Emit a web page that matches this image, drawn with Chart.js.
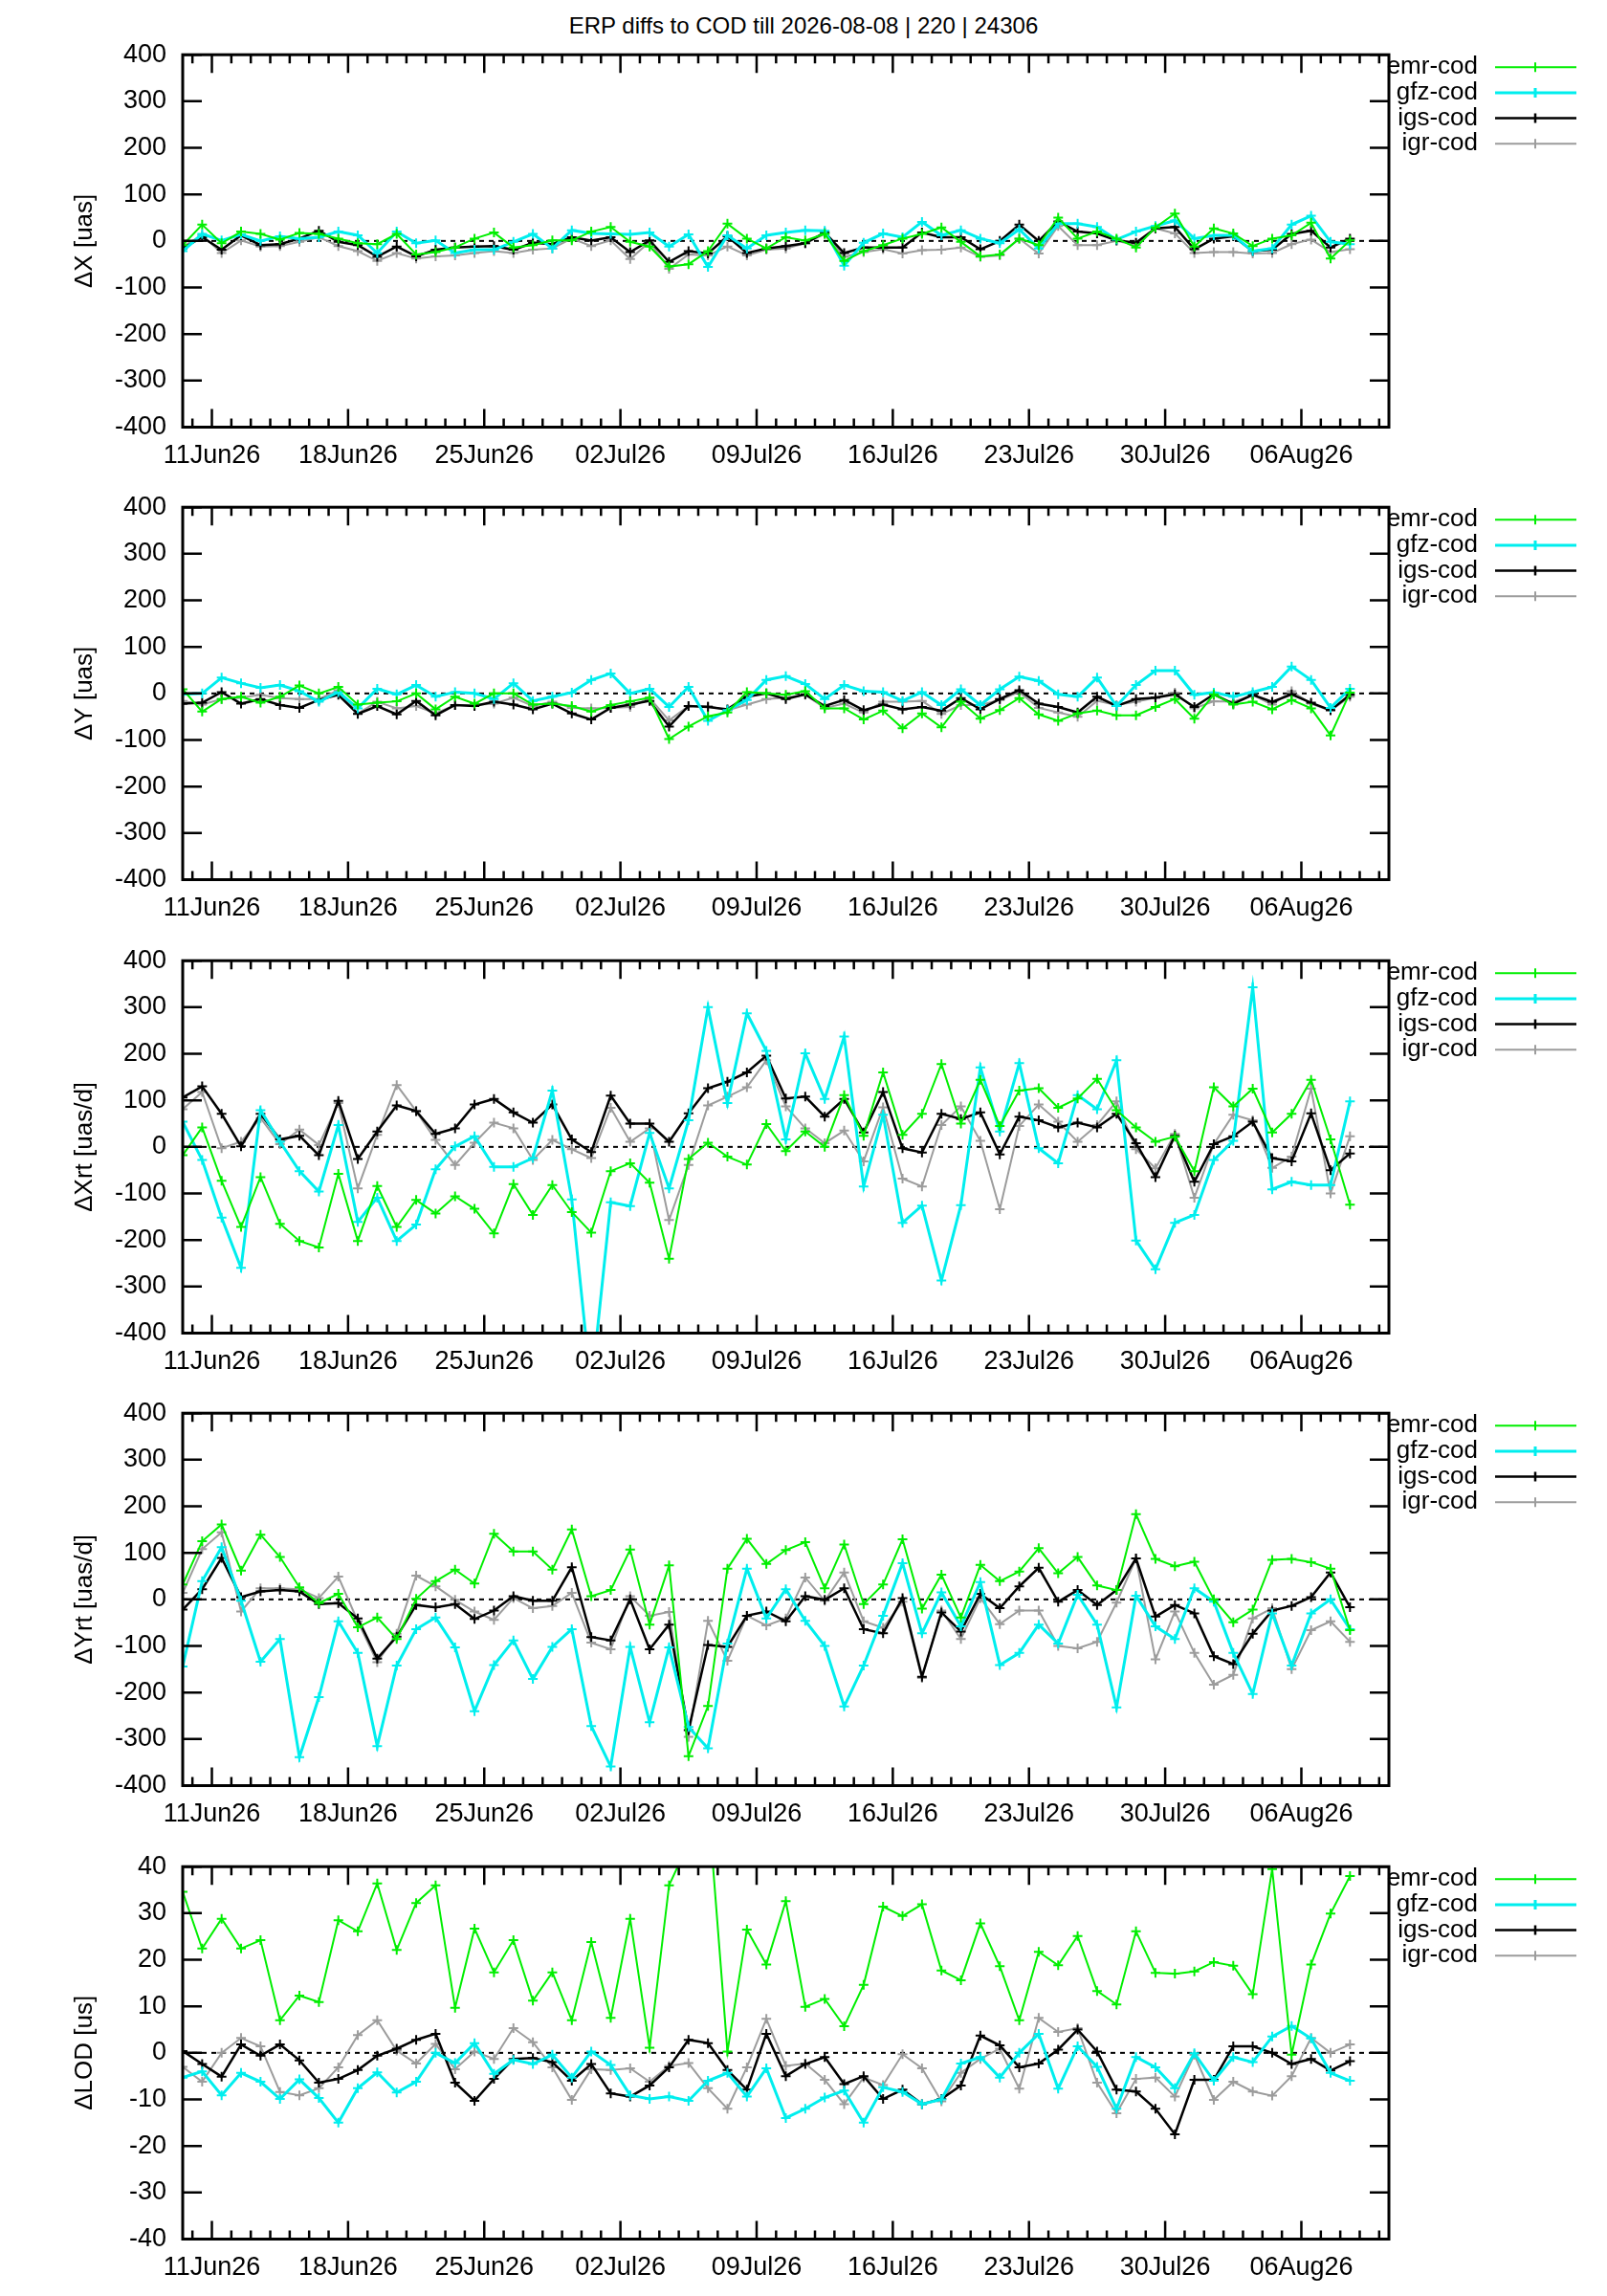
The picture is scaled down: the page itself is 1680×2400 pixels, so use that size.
<!DOCTYPE html>
<html lang="en">
<head>
<meta charset="UTF-8">
<title>ERP diffs to COD</title>
<style>
  html, body { margin: 0; padding: 0; background: #fff; }
  body { width: 1680px; height: 2400px; position: relative; overflow: hidden;
         font-family: "Liberation Sans", Arial, sans-serif; }
  #title { position: absolute; left: 0; top: 12px; width: 1680px; text-align: center;
           font-size: 24px; line-height: 30px; color: #000; }
  canvas { position: absolute; left: 0; }
</style>
</head>
<body>

<div id="title">ERP diffs to COD till 2026-08-08 | 220 | 24306</div>

<canvas id="p0" width="1680" height="473" style="top:23.5px;width:1680px;height:473px"></canvas>
<canvas id="p1" width="1680" height="473" style="top:497px;width:1680px;height:473px"></canvas>
<canvas id="p2" width="1680" height="473" style="top:970.5px;width:1680px;height:473px"></canvas>
<canvas id="p3" width="1680" height="473" style="top:1444px;width:1680px;height:473px"></canvas>
<canvas id="p4" width="1680" height="473" style="top:1917.5px;width:1680px;height:473px"></canvas>

<script src="https://cdn.jsdelivr.net/npm/chart.js@4.4.1/dist/chart.umd.min.js"></script>
<script>
// x axis: days since 11Jun26 00:00, one solution per day (noon), 09Jun26 .. 08Aug26
var tickDays = [0, 7, 14, 21, 28, 35, 42, 49, 56];
var tickLabels = ['11Jun26', '18Jun26', '25Jun26', '02Jul26', '09Jul26', '16Jul26', '23Jul26', '30Jul26', '06Aug26'];
var seriesNames = ['emr-cod', 'gfz-cod', 'igs-cod', 'igr-cod'];
var seriesColors = ['#00ee00', '#00eeee', '#000000', '#9c9c9c'];
var seriesWidths = [2, 3, 2.5, 2];

// dX [uas]
var dxEmr = [-9, 35, -5, 20, 15, 3, 17, 15, 5, -5, -7, 15, -29, -24, -14, 5, 18, -14, -9, 1, 1, 20, 30, -2, -12, -55, -50, -22, 37, 5, -16, 8,
             1, 15, -43, -22, -9, 5, 15, 29, -2, -33, -29, 5, -9, 50, 5, 20, 5, -14, 29, 59, -12, 27, 16, -11, 5, 12, 39, -38, 1];
var dxGfz = [-22, 15, 1, 14, 0, 10, 5, 8, 20, 12, -26, 20, -5, 1, -26, -19, -19, -2, 15, -16, 23, 16, 15, 14, 18, -12, 14, -56, 12, -16, 12, 18,
             23, 22, -53, -4, 16, 8, 41, 12, 23, 5, -5, 25, -16, 37, 37, 30, 3, 20, 32, 44, 5, 12, 12, -22, -16, 35, 54, -2, -7];
var dxIgs = [-16, 8, -19, 12, -9, -7, 5, 22, -2, -9, -34, -12, -33, -19, -14, -12, -11, -19, -4, -7, 8, 1, 8, -24, 1, -45, -22, -27, 10, -26, -16, -11,
             -5, 18, -26, -14, -14, -14, 18, 8, 8, -18, 0, 35, 0, 42, 20, 16, 1, -4, 27, 30, -18, 5, 10, -22, -19, 15, 22, -14, 5];
var dxIgr = [-12, 12, -26, 1, -12, -11, -2, 8, -11, -22, -43, -26, -38, -33, -31, -26, -22, -26, -19, -16, 5, -11, 1, -39, -2, -60, -29, -31, -12, -31, -19, -16,
             -5, 15, -34, -24, -18, -27, -20, -19, -14, -34, -31, 5, -27, 32, -9, -9, 0, -9, 27, 16, -26, -24, -24, -27, -26, -7, 3, -24, -18];

// dY [uas]
var dyEmr = [9, -39, -12, -7, -20, -7, 17, 0, 14, -24, -20, -17, 0, -34, -7, -22, 0, 0, -24, -22, -27, -39, -25, -17, -9, -98, -71, -49, -41, 3, 0, -3,
             5, -32, -32, -56, -37, -75, -43, -73, -18, -54, -36, -10, -45, -59, -43, -37, -47, -47, -29, -12, -54, -2, -24, -18, -34, -14, -32, -90, 2];
var dyGfz = [-2, 0, 34, 22, 12, 18, 5, -18, 3, -32, 10, -2, 18, -7, 3, 0, -12, 22, -16, -7, 2, 29, 43, 0, 10, -29, 14, -59, -36, -14, 29, 37,
             20, -12, 18, 5, 3, -16, 3, -25, 9, -25, 9, 36, 27, -2, -7, 34, -27, 18, 49, 49, -3, 2, -7, 3, 14, 58, 29, -31, 10];
var dyIgs = [-22, -20, 3, -22, -12, -25, -31, -14, -3, -44, -27, -45, -16, -47, -25, -27, -18, -24, -34, -22, -43, -56, -31, -24, -16, -71, -27, -29, -34, -7, 0, -12,
             -2, -27, -14, -36, -24, -34, -29, -37, -10, -34, -12, 7, -22, -29, -41, -7, -27, -12, -9, -2, -29, -2, -22, -3, -18, -2, -20, -36, -3];
var dyIgr = [-16, -24, -12, -9, -3, -10, -12, -12, 7, -43, -18, -32, -27, -43, -25, -25, -22, -9, -27, -18, -31, -32, -31, -29, -10, -58, -27, -27, -36, -24, -12, -9,
             -3, -31, -22, -41, -18, -18, -16, -44, -25, -25, -14, 3, -31, -41, -50, -16, -25, -18, -9, 2, -32, -17, -18, -3, -24, 5, -22, -37, -7];

// dXrt [uas/d]
var dxrtEmr = [-18, 42, -73, -172, -65, -165, -202, -216, -58, -202, -84, -172, -114, -143, -106, -133, -186, -80, -146, -82, -140, -184, -52, -35, -77, -240, -26, 9, -21, -38, 49, -9,
               33, 0, 111, 24, 160, 26, 71, 178, 50, 144, 45, 121, 126, 84, 104, 146, 79, 42, 11, 22, -52, 128, 87, 125, 31, 71, 144, 16, -124];
var dxrtGfz = [54, -28, -152, -260, 79, 11, -52, -96, 47, -161, -109, -202, -167, -48, 1, 23, -43, -43, -24, 121, -113, -520, -119, -127, 30, -89, 57, 300, 94, 287, 206, 16,
               201, 103, 237, -85, 69, -163, -126, -287, -125, 171, 33, 180, -3, -35, 111, 81, 186, -201, -263, -163, -146, -28, 13, 343, -91, -75, -82, -82, 98];
var dxrtIgs = [106, 130, 71, 1, 71, 16, 24, -18, 99, -26, 33, 89, 77, 28, 40, 91, 103, 74, 52, 91, 16, -11, 110, 50, 50, 11, 72, 126, 140, 160, 196, 104,
               108, 65, 103, 31, 118, -3, -12, 71, 60, 74, -16, 65, 57, 42, 52, 42, 71, 8, -65, 24, -75, 6, 23, 54, -24, -31, 72, -50, -14];
var dxrtIgr = [81, 118, -3, 11, 62, 6, 37, 4, 94, -89, 26, 133, 77, 15, -39, 9, 52, 40, -28, 15, -5, -24, 84, 11, 40, -157, -39, 89, 108, 128, 186, 87,
               40, 8, 35, -31, 85, -68, -85, 47, 87, 13, -134, 45, 91, 54, 11, 47, 98, -5, -46, 28, -109, 6, 69, 57, -45, -21, 125, -100, 23];

// dYrt [uas/d]
var dyrtEmr = [32, 125, 161, 62, 139, 91, 26, -8, 12, -60, -39, -85, 1, 39, 64, 34, 141, 103, 103, 64, 150, 7, 20, 107, -54, 73, -337, -229, 66, 130, 76, 106,
               123, 24, 118, -10, 32, 129, -20, 53, -39, 74, 39, 60, 110, 56, 91, 30, 20, 183, 87, 71, 81, 0, -49, -22, 85, 87, 80, 66, -66];
var dyrtGfz = [-144, 39, 112, -3, -134, -85, -339, -210, -47, -115, -315, -142, -64, -39, -103, -240, -141, -88, -171, -102, -64, -272, -359, -102, -264, -103, -274, -320, -95, 66, -41, 22,
               -46, -100, -230, -142, -35, 78, -73, 15, -58, 37, -141, -115, -54, -95, 10, -54, -232, 8, -58, -85, 24, -5, -115, -203, -30, -142, -30, 0, -64];
var dyrtIgs = [-22, 22, 89, 5, 17, 20, 17, -10, -8, -41, -127, -80, -12, -17, -10, -42, -24, 7, -3, -3, 69, -81, -88, 0, -107, -54, -281, -98, -102, -35, -26, -47,
               7, -1, 24, -64, -73, 3, -166, -28, -69, 12, -19, 28, 68, -5, 20, -12, 20, 88, -37, -12, -30, -122, -139, -74, -24, -14, 5, 58, -17];
var dyrtIgr = [14, 108, 144, -26, 24, 24, 22, 3, 49, -47, -135, -74, 51, 28, -1, -26, -44, 3, -19, -14, 14, -93, -107, 7, -35, -27, -295, -46, -132, -35, -56, -41,
               47, -3, 58, -47, -61, -5, -169, -24, -85, 3, -53, -24, -24, -100, -105, -91, -7, 88, -129, -26, -115, -183, -162, -41, -19, -150, -66, -47, -91];

// dLOD [us]
var dlodEmr = [34.6, 22.4, 28.8, 22.4, 24.2, 7, 12.3, 10.9, 28.5, 26.1, 36.4, 22.1, 32.2, 36, 9.7, 26.7, 17.3, 24.2, 11.2, 17.3, 7, 23.8, 7.5, 28.8, 1.1, 36, 45, 54, 0.3, 26.5, 19, 32.6,
               9.9, 11.6, 5.7, 14.6, 31.4, 29.4, 31.9, 17.7, 15.6, 27.8, 18.6, 7, 21.7, 18.8, 25.1, 13.3, 10.4, 26.1, 17.2, 17, 17.5, 19.5, 18.7, 12.6, 39.5, -0.4, 19, 29.9, 38];
var dlodGfz = [-5.3, -4, -9.1, -4.3, -6.2, -9.9, -5.7, -9.7, -15, -7.6, -4.2, -8.5, -6.2, 0, -2.2, 2.1, -4.5, -1.5, -2.4, -0.4, -5.3, 0.3, -2.6, -9.1, -9.9, -9.4, -10.3, -6, -4.3, -9.4, -3.3, -14,
               -12, -9.6, -8.1, -15, -7.4, -8.4, -11, -10, -2.3, -0.9, -5.3, 0, 4.1, -7.7, 1.4, -3, -12, -0.9, -3.1, -7.6, -0.1, -6, -0.9, -2, 3.5, 5.8, 3.1, -4.3, -6];
var dlodIgs = [0.4, -2.4, -5.1, 1.8, -0.6, 1.8, -1.6, -6.4, -5.6, -3.7, -0.6, 0.9, 2.8, 4.1, -6.4, -10.3, -5.6, -1.3, -1.1, -2, -6, -2.4, -8.7, -9.4, -7, -3.1, 2.8, 2.1, -3.7, -7.9, 4.1, -5,
               -2.4, -0.9, -6.7, -5, -9.9, -7.9, -11, -9.9, -7, 3.7, 1.6, -3.1, -2.3, 0.7, 5, 0.3, -7.9, -8.3, -12, -17.5, -5.8, -5.8, 1.4, 1.4, 0, -2.4, -1.3, -3.8, -1.8];
var dlodIgr = [-3, -6.2, 0, 3.2, 1.4, -8.4, -9.1, -7.6, -3.1, 3.8, 7, 0.5, -2.3, 1.9, -3.5, 0.3, -1.3, 5.3, 2.3, -3.1, -10.1, -3.5, -3.7, -3.3, -6.2, -2.8, -2.2, -7.6, -12, -3.1, 7.3, -2.8,
               -2.3, -5.8, -11, -5.3, -6.9, -0.3, -3.3, -10.4, -4.3, -1.3, 0.9, -7.7, 7.5, 4.5, 5.3, -6.4, -13, -5.6, -5.3, -9.4, -0.4, -10.1, -6.2, -8.3, -9.2, -5, 3.2, 0, 1.8];

var panels = [
    { id: 'p0', title: '\u0394X [uas]',     min: -400, max: 400, step: 100, series: [dxEmr, dxGfz, dxIgs, dxIgr] },
    { id: 'p1', title: '\u0394Y [uas]',     min: -400, max: 400, step: 100, series: [dyEmr, dyGfz, dyIgs, dyIgr] },
    { id: 'p2', title: '\u0394Xrt [uas/d]', min: -400, max: 400, step: 100, series: [dxrtEmr, dxrtGfz, dxrtIgs, dxrtIgr] },
    { id: 'p3', title: '\u0394Yrt [uas/d]', min: -400, max: 400, step: 100, series: [dyrtEmr, dyrtGfz, dyrtIgs, dyrtIgr] },
    { id: 'p4', title: '\u0394LOD [us]',    min: -40,  max: 40,  step: 10,  series: [dlodEmr, dlodGfz, dlodIgs, dlodIgr] }
];

// first solution 09Jun26 12:00 = day -1.5
var epochs = [];
for (var i = 0; i < dxEmr.length; i++) epochs.push(i - 1.5);

var FONT = '"Liberation Sans", Arial, Helvetica, sans-serif';

// gnuplot look: frame, inward ticks, dotted zero line, key on the right, y label
var gnuplotLook = {
    id: 'gnuplotLook',
    beforeDatasetsDraw: function (chart) {
        var a = chart.chartArea, ctx = chart.ctx;
        var y0 = chart.scales.y.getPixelForValue(0);
        ctx.save();
        ctx.strokeStyle = '#000';
        ctx.lineWidth = 2;
        ctx.setLineDash([5, 5]);
        ctx.beginPath();
        ctx.moveTo(a.left, y0);
        ctx.lineTo(a.right, y0);
        ctx.stroke();
        ctx.restore();
    },
    afterDraw: function (chart) {
        var a = chart.chartArea, ctx = chart.ctx;
        var xs = chart.scales.x, ys = chart.scales.y;
        ctx.save();
        ctx.strokeStyle = '#000';
        ctx.lineWidth = 2.5;
        ctx.beginPath();
        // daily minor ticks, weekly major ticks, top and bottom
        for (var d = Math.ceil(xs.min); d <= xs.max; d++) {
            var px = xs.getPixelForValue(d);
            var len = (tickDays.indexOf(d) >= 0) ? 19 : 9;
            ctx.moveTo(px, a.bottom); ctx.lineTo(px, a.bottom - len);
            ctx.moveTo(px, a.top);    ctx.lineTo(px, a.top + len);
        }
        ys.ticks.forEach(function (t) {
            var py = ys.getPixelForValue(t.value);
            ctx.moveTo(a.left, py);  ctx.lineTo(a.left + 20, py);
            ctx.moveTo(a.right, py); ctx.lineTo(a.right - 20, py);
        });
        ctx.stroke();
        ctx.lineWidth = 3;
        ctx.strokeRect(a.left, a.top, a.right - a.left, a.bottom - a.top);

        // key
        ctx.font = '26px ' + FONT;
        ctx.textAlign = 'right';
        ctx.textBaseline = 'middle';
        chart.data.datasets.forEach(function (ds, j) {
            var ky = a.top + 13 + 26.7 * j;
            ctx.fillStyle = '#000';
            ctx.fillText(ds.label, a.right + 93, ky);
            ctx.strokeStyle = ds.borderColor;
            ctx.lineWidth = ds.borderWidth;
            ctx.beginPath();
            ctx.moveTo(a.right + 111, ky); ctx.lineTo(a.right + 196, ky);
            ctx.moveTo(a.right + 153, ky - 5); ctx.lineTo(a.right + 153, ky + 5);
            ctx.stroke();
        });

        // y label
        ctx.fillStyle = '#000';
        ctx.font = '26px ' + FONT;
        ctx.textAlign = 'center';
        ctx.translate(89, (a.top + a.bottom) / 2);
        ctx.rotate(-Math.PI / 2);
        ctx.fillText(chart.options.yTitle, 0, 0);
        ctx.restore();
    }
};

function makePanel(p) {
    var datasets = p.series.map(function (vals, j) {
        return {
            label: seriesNames[j],
            data: vals.map(function (v, i) { return { x: epochs[i], y: v }; }),
            borderColor: seriesColors[j],
            backgroundColor: seriesColors[j],
            borderWidth: seriesWidths[j],
            pointStyle: 'cross',
            pointRadius: 5,
            pointBorderWidth: 2,
            pointBorderColor: seriesColors[j],
            fill: false,
            tension: 0
        };
    });

    new Chart(document.getElementById(p.id), {
        type: 'line',
        data: { datasets: datasets },
        options: {
            responsive: false,
            animation: false,
            devicePixelRatio: 1,
            yTitle: p.title,
            layout: { padding: { left: 0, right: 228, top: 30, bottom: 0 } },
            plugins: { legend: { display: false }, tooltip: { enabled: false } },
            scales: {
                x: {
                    type: 'linear',
                    min: -1.5,
                    max: 60.5,
                    grid: { display: false, drawTicks: false },
                    border: { display: false },
                    afterBuildTicks: function (s) { s.ticks = tickDays.map(function (v) { return { value: v }; }); },
                    afterFit: function (s) { s.height = 50.5; },
                    ticks: {
                        autoSkip: false, maxRotation: 0, padding: 14, color: '#000',
                        font: { family: FONT, size: 27 },
                        callback: function (v) { return tickLabels[tickDays.indexOf(v)]; }
                    }
                },
                y: {
                    min: p.min,
                    max: p.max,
                    grid: { display: false, drawTicks: false },
                    border: { display: false },
                    afterFit: function (s) { s.width = 191; },
                    ticks: {
                        stepSize: p.step, padding: 17, color: '#000',
                        font: { family: FONT, size: 27 },
                        callback: function (v) { return String(v); }
                    }
                }
            }
        },
        plugins: [gnuplotLook]
    });
}

panels.forEach(makePanel);
</script>

</body>
</html>
